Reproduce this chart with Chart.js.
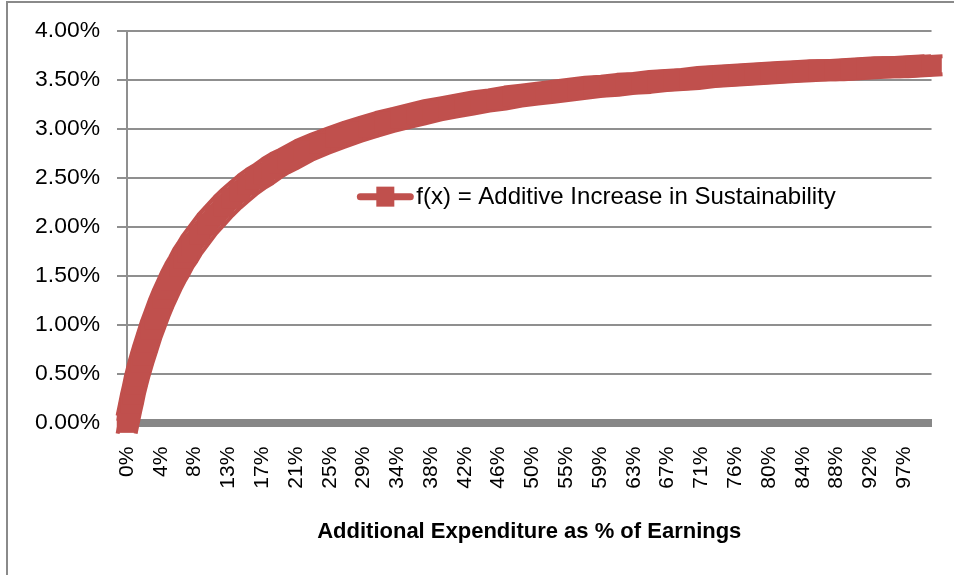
<!DOCTYPE html>
<html>
<head>
<meta charset="utf-8">
<script src="https://cdn.jsdelivr.net/npm/chart.js@4/dist/chart.umd.min.js"></script>
<style>
  html, body { margin: 0; padding: 0; background: #ffffff; }
  #wrap { width: 954px; height: 575px; position: relative; }
</style>
</head>
<body>
<div id="wrap"><canvas id="c"></canvas></div>
<script>
// ---- data ----
const seriesName = 'f(x) = Additive Increase in Sustainability';
const axisTitleX = 'Additional Expenditure as % of Earnings';

// additional expenditure (% of earnings)
const expenditurePct = [
  0, 0.25, 0.5, 0.75, 1, 1.25, 1.5, 1.75, 2, 2.5,
  3, 3.5, 4, 4.5, 5, 5.5, 6, 6.5, 7, 7.5,
  8, 9, 10, 11, 12, 13, 14, 15, 16, 17,
  18, 19, 20, 22, 24, 26, 28, 30, 32, 34,
  36, 38, 40, 42, 44, 46, 48, 50, 52, 54,
  56, 58, 60, 62, 64, 66, 68, 70, 72, 74,
  76, 78, 80, 82, 84, 86, 88, 90, 92, 94,
  96, 98, 100
];
// additive increase in sustainability (%)
const sustainabilityPct = [
  0.00, 0.10, 0.20, 0.29, 0.39, 0.47, 0.55, 0.62, 0.69, 0.82,
  0.95, 1.06, 1.17, 1.27, 1.36, 1.45, 1.53, 1.60, 1.68, 1.74,
  1.81, 1.92, 2.03, 2.12, 2.21, 2.29, 2.36, 2.43, 2.49, 2.54,
  2.60, 2.65, 2.69, 2.78, 2.85, 2.91, 2.97, 3.02, 3.07, 3.11,
  3.15, 3.19, 3.22, 3.25, 3.28, 3.30, 3.33, 3.35, 3.37, 3.39,
  3.41, 3.43, 3.44, 3.46, 3.47, 3.49, 3.50, 3.51, 3.53, 3.54,
  3.55, 3.56, 3.57, 3.58, 3.59, 3.60, 3.60, 3.61, 3.62, 3.63,
  3.63, 3.64, 3.65
];

// category-style tick positions and labels of the x axis
const xTickValues = [0, 4.2, 8.4, 12.6, 16.8, 21, 25.2, 29.4, 33.6, 37.8, 42, 46.2,
                     50.4, 54.6, 58.8, 63, 67.2, 71.4, 75.6, 79.8, 84, 88.2, 92.4, 96.6];
const xTickLabels = ['0%', '4%', '8%', '13%', '17%', '21%', '25%', '29%', '34%', '38%', '42%', '46%',
                     '50%', '55%', '59%', '63%', '67%', '71%', '76%', '80%', '84%', '88%', '92%', '97%'];
const yTickValues = [0, 0.5, 1, 1.5, 2, 2.5, 3, 3.5, 4];
const yTickLabels = ['0.00%', '0.50%', '1.00%', '1.50%', '2.00%', '2.50%', '3.00%', '3.50%', '4.00%'];

// ---- styling ----
const RED = '#C0504D';
const GRID = '#8f8f8f';
const FONT = "'Liberation Sans', Arial, sans-serif";

// choose label font sizes so that the label lengths match the original
function fitSize(text, targetWidth, weight) {
  const m = document.createElement('canvas').getContext('2d');
  m.font = (weight ? weight + ' ' : '') + '20px ' + FONT;
  const w = m.measureText(text).width;
  return Math.round(20 * targetWidth / w * 10) / 10;
}
const yTickSize = fitSize('4.00%', 65);
const xTickSize = fitSize('97%', 42);

const points = expenditurePct.map((x, i) => ({ x: x, y: sustainabilityPct[i] }));

const frame = {
  id: 'frame',
  beforeDraw(chart) {
    const ctx = chart.ctx;
    ctx.save();
    ctx.fillStyle = '#ffffff';
    ctx.fillRect(0, 0, chart.width, chart.height);
    ctx.strokeStyle = '#8a8a8a';
    ctx.lineWidth = 2;
    ctx.strokeRect(7, 2, chart.width + 20, chart.height + 20);
    ctx.restore();
  }
};

// widens the series line like a square marker brush (dense square markers in the original)
const squareBrush = {
  id: 'squareBrush',
  beforeDatasetsDraw(chart) {
    const meta = chart.getDatasetMeta(0);
    const line = meta.dataset;
    if (!line || !line.path) return;
    const ctx = chart.ctx;
    ctx.save();
    ctx.strokeStyle = RED;
    ctx.lineWidth = 4;
    ctx.lineJoin = 'round';
    ctx.lineCap = 'square';
    const off = [[-9, -9], [9, -9], [-9, 9], [9, 9]];
    for (const [dx, dy] of off) {
      ctx.save();
      ctx.translate(dx, dy);
      ctx.beginPath();
      line.path(ctx);
      ctx.stroke();
      ctx.restore();
    }
    ctx.restore();
  }
};

const innerLegend = {
  id: 'innerLegend',
  afterDatasetsDraw(chart) {
    const ctx = chart.ctx;
    const a = chart.chartArea;
    const cy = a.top + (a.bottom - a.top) * 0.423;
    const x0 = a.left + (a.right - a.left) * 0.29;
    ctx.save();
    ctx.strokeStyle = RED;
    ctx.lineWidth = 7;
    ctx.lineCap = 'round';
    ctx.beginPath();
    ctx.moveTo(x0, cy);
    ctx.lineTo(x0 + 50, cy);
    ctx.stroke();
    ctx.fillStyle = RED;
    ctx.fillRect(x0 + 16, cy - 10, 18, 20);
    ctx.fillStyle = '#000000';
    ctx.font = '24px ' + FONT;
    ctx.textBaseline = 'middle';
    ctx.textAlign = 'left';
    ctx.fillText(seriesName, x0 + 56, cy + 1);
    ctx.restore();
  }
};

new Chart(document.getElementById('c'), {
  type: 'line',
  data: {
    datasets: [{
      label: seriesName,
      data: points,
      borderColor: RED,
      backgroundColor: RED,
      borderWidth: 22,
      borderJoinStyle: 'round',
      pointStyle: 'rect',
      pointRadius: 14.5,
      pointBorderWidth: 0,
      pointBackgroundColor: RED,
      tension: 0,
      clip: false
    }]
  },
  options: {
    responsive: true,
    maintainAspectRatio: false,
    animation: false,
    events: [],
    layout: { padding: { left: 0, right: 18, top: 31, bottom: 0 } },
    plugins: {
      legend: { display: false },
      tooltip: { enabled: false }
    },
    scales: {
      x: {
        type: 'linear',
        min: 0,
        max: 100,
        afterBuildTicks: s => { s.ticks = xTickValues.map(v => ({ value: v })); },
        afterFit: s => { s.height = 152.4; },
        grid: { display: false, drawTicks: false },
        border: { display: true, color: '#878787', width: 8 },
        ticks: {
          autoSkip: false,
          maxRotation: 90,
          minRotation: 90,
          padding: 24,
          color: '#000000',
          font: { family: FONT, size: xTickSize },
          callback: (v, i) => xTickLabels[i]
        },
        title: {
          display: true,
          text: axisTitleX,
          color: '#000000',
          font: { family: FONT, size: 22, weight: 'bold' },
          padding: { top: 0, bottom: 30 }
        }
      },
      y: {
        min: 0,
        max: 4,
        afterBuildTicks: s => { s.ticks = yTickValues.map(v => ({ value: v })); },
        afterFit: s => { s.width = 127; },
        grid: { color: GRID, lineWidth: 2, tickLength: 10, drawTicks: true },
        border: { display: true, color: GRID, width: 2 },
        ticks: {
          padding: 17,
          color: '#000000',
          font: { family: FONT, size: yTickSize },
          callback: (v, i) => yTickLabels[i]
        }
      }
    }
  },
  plugins: [frame, squareBrush, innerLegend]
});
</script>
</body>
</html>
